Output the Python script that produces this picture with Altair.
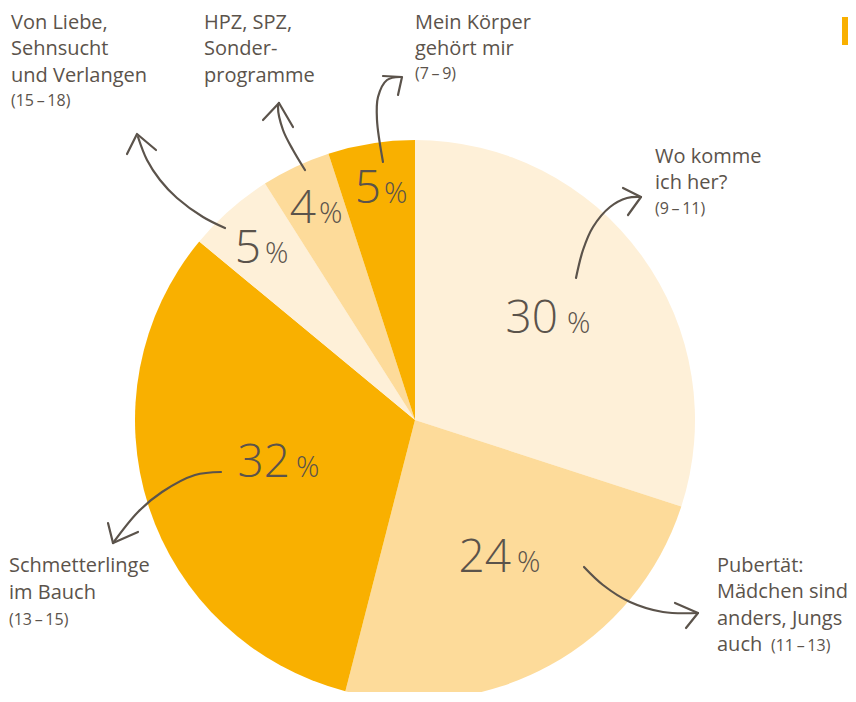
import altair as alt
import pandas as pd

# ---------------- data ----------------
categories = ["Wo komme ich her?", "Pubertät", "Schmetterlinge im Bauch",
              "Von Liebe, Sehnsucht und Verlangen", "HPZ, SPZ, Sonderprogramme",
              "Mein Körper gehört mir"]
shares = [30, 24, 32, 5, 4, 5]
slice_colors = ["#FEF0D8", "#FDDB9A", "#F9B000", "#FEF0D8", "#FDDB9A", "#F9B000"]

# percentage labels: number (right edge), % (left edge), baseline
pct_values = ["30", "24", "32", "5", "4", "5"]
pct_num_x = [558, 511, 290, 261, 316, 381]
pct_sign_x = [567, 517, 296, 265, 319, 384]
pct_base_y = [333, 572, 477, 263, 223, 203]

# category text lines (x, baseline y, size)
label_text = ["Von Liebe,", "Sehnsucht", "und Verlangen", "(15\u2009\u2013\u200918)",
              "HPZ, SPZ,", "Sonder-", "programme",
              "Mein Körper", "gehört mir", "(7\u2009\u2013\u20099)",
              "Wo komme", "ich her?", "(9\u2009\u2013\u200911)",
              "Pubertät:", "Mädchen sind", "anders, Jungs", "auch", "(11\u2009\u2013\u200913)",
              "Schmetterlinge", "im Bauch", "(13\u2009\u2013\u200915)"]
label_x = [11, 11, 11, 11,
           204, 204, 204,
           415, 415, 415,
           655, 655, 655,
           717, 717, 717, 717, 771,
           9, 9, 9]
label_y = [29, 55, 82, 106,
           29, 55, 82,
           29, 55, 79,
           163, 189, 214,
           572, 598, 625, 651, 651,
           572, 599, 625]
label_size = [20, 20, 20, 16,
              20, 20, 20,
              20, 20, 16,
              20, 20, 16,
              20, 20, 20, 20, 16,
              20, 20, 16]

# hand-drawn arrows: shaft points and arrowheads (barb, tip, barb)
arrow_shafts = {
    "liebe": [(225, 228), (203, 217), (177, 198), (160, 180), (147, 160), (138, 137)],
    "hpz": [(305, 170), (293, 150), (283, 130), (278, 107), (279, 103)],
    "koerper": [(383, 162), (377, 120), (378, 97), (387, 80), (400, 77)],
    "wo": [(576, 278), (583, 250), (593, 227), (610, 207), (627, 198), (641, 197)],
    "pubertaet": [(584, 567), (603, 585), (630, 602), (663, 612), (698, 613)],
    "schmetter": [(221, 472), (195, 475), (162, 492), (138, 512), (113, 543)],
}
arrow_heads = {
    "liebe": [(127, 154), (137, 134), (156, 150)],
    "hpz": [(263, 120), (279, 103), (293, 127)],
    "koerper": [(383, 76), (402, 77), (398, 95)],
    "wo": [(623, 188), (641, 197), (628, 215)],
    "pubertaet": [(675, 603), (698, 613), (686, 628)],
    "schmetter": [(108, 523), (113, 543), (138, 532)],
}

# ---------------- layout ----------------
W, H = 840, 684
OFF = 8
text_color = "#5B534B"
font = "Open Sans"

xs = alt.Scale(domain=[OFF, OFF + W], range=[0, W])
ys = alt.Scale(domain=[OFF, OFF + H], range=[0, H])

pie_df = pd.DataFrame({"cat": categories, "share": shares, "idx": range(len(shares))})
pie = alt.Chart(pie_df).mark_arc(outerRadius=280).encode(
    theta=alt.Theta("share:Q", stack=True),
    order=alt.Order("idx:Q"),
    color=alt.Color("cat:N", scale=alt.Scale(domain=categories, range=slice_colors), legend=None),
    x=alt.value(415 - OFF),
    y=alt.value(420 - OFF),
)

pct_df = pd.DataFrame({"num": pct_values, "nx": pct_num_x, "sx": pct_sign_x, "y": pct_base_y,
                       "sign": ["%"] * len(pct_values)})
nums = alt.Chart(pct_df).mark_text(align="right", baseline="alphabetic", fontSize=46,
                                   font=font, fontWeight=300, color=text_color).encode(
    x=alt.X("nx:Q", scale=xs, axis=None), y=alt.Y("y:Q", scale=ys, axis=None), text="num:N")
signs = alt.Chart(pct_df).mark_text(align="left", baseline="alphabetic", fontSize=29,
                                    font=font, fontWeight=300, color=text_color).encode(
    x=alt.X("sx:Q", scale=xs, axis=None), y=alt.Y("y:Q", scale=ys, axis=None), text="sign:N")

lab_df = pd.DataFrame({"t": label_text, "x": label_x, "y": label_y, "s": label_size})
labels = alt.Chart(lab_df).mark_text(align="left", baseline="alphabetic", font=font,
                                     color=text_color).encode(
    x=alt.X("x:Q", scale=xs, axis=None), y=alt.Y("y:Q", scale=ys, axis=None), text="t:N",
    size=alt.Size("s:Q", scale=None, legend=None))

shaft_rows = []
for k, pts in arrow_shafts.items():
    for i, (px, py) in enumerate(pts):
        shaft_rows.append({"a": k, "i": i, "x": px, "y": py})
head_rows = []
for k, pts in arrow_heads.items():
    for i, (px, py) in enumerate(pts):
        head_rows.append({"a": k, "i": i, "x": px, "y": py})

shafts = alt.Chart(pd.DataFrame(shaft_rows)).mark_line(
    interpolate="catmull-rom", color=text_color, strokeWidth=2.2, strokeCap="round").encode(
    x=alt.X("x:Q", scale=xs, axis=None), y=alt.Y("y:Q", scale=ys, axis=None),
    detail="a:N", order="i:Q")
heads = alt.Chart(pd.DataFrame(head_rows)).mark_line(
    color=text_color, strokeWidth=2.2, strokeCap="round", strokeJoin="round").encode(
    x=alt.X("x:Q", scale=xs, axis=None), y=alt.Y("y:Q", scale=ys, axis=None),
    detail="a:N", order="i:Q")

corner = alt.Chart(pd.DataFrame({"k": [0]})).mark_rect(color="#F9B000").encode(
    x=alt.value(W - 6), x2=alt.value(W), y=alt.value(17 - OFF), y2=alt.value(45 - OFF))

chart = alt.layer(pie, shafts, heads, nums, signs, labels, corner).properties(
    width=W, height=H, padding=0, autosize="none"
).configure_view(stroke=None)

chart.save("out.html", embed_options={"renderer": "svg", "actions": False})
